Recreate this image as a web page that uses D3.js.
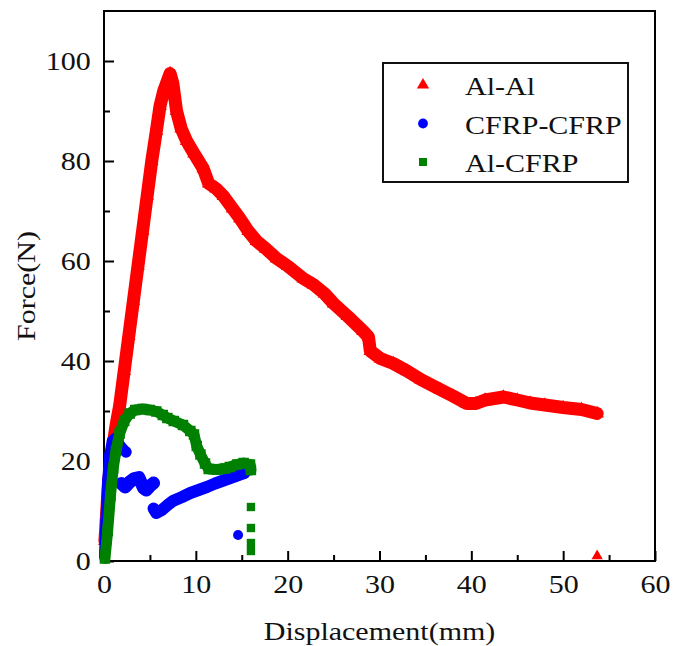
<html>
<head><script src="https://d3js.org/d3.v7.min.js"></script></head>
<body style="margin:0;background:#fff">
<svg id="chart" width="682" height="646"></svg>
<script>
// values: [displacement mm, force N]
const alAl = [[0.1,4],[0.3,10],[0.5,16],[0.9,22],[1.3,27],[1.7,31],[2.2,38],[2.7,45],[3.2,52],
  [3.7,59],[4.2,66],[4.7,73],[5.2,80],[5.7,86],[6.1,91],[6.5,94],[6.9,96],[7.2,97.5],[7.5,95.5],
  [7.9,90],[8.4,86.5],[9.0,84],[9.8,81.5],[10.8,78.5],[11.4,75.5],[12.2,74.5],[13.0,73],[14.0,70.5],
  [14.8,68.5],[15.7,66],[16.6,64],[17.6,62.5],[18.8,60.5],[20.0,59],[21.7,56.5],[22.8,55.3],[24.0,53.5],
  [25.0,51.5],[26.5,49],[28.2,46],[28.8,44.8],[29.0,42],[30.1,40.5],[31.5,39.5],[33.0,38],[34.5,36.3],
  [36.6,34.3],[38.0,33],[39.5,31.5],[40.5,31.5],[41.5,32.2],[43.5,32.8],[45.0,32.2],[46.4,31.6],
  [48.0,31.2],[50.0,30.7],[52.0,30.3],[53.7,29.5]]
const alAlExtra = [[53.7,1]]

const cfrpRise = [[0.05,1],[0.2,8],[0.4,16],[0.6,21],[0.9,24],[1.2,24.5],[1.6,23.5],[2.0,22.5],[2.4,21.8]]
const cfrpCluster = [[1.9,15.5],[2.3,14.8],[2.8,15.8],[3.3,16.5],[3.8,16.7],[4.3,14.6],[4.6,14.2],[5.0,15],[5.4,15.6]]
const cfrpLine = [[5.4,10.5],[5.7,9.6],[6.3,10.2],[7.0,11.3],[7.5,12],[8.5,12.8],[9.4,13.6],[10.3,14.2],
  [11.2,14.8],[12.1,15.5],[13.0,16.1],[13.9,16.7],[14.8,17.3],[15.3,17.6]]
const cfrpExtra = [[14.6,5.2]]

const alCfrp = [[0.1,0.5],[0.4,6],[0.7,13],[1.0,18.5],[1.3,22],[1.7,25.5],[2.2,28],[2.8,29.5],[3.4,30.2],
  [4.2,30.4],[5.0,30.2],[5.7,29.9],[6.4,29.2],[6.9,28.6],[7.6,28],[8.6,27.2],[9.4,26],[9.8,25.3],
  [10.1,23],[10.5,21.3],[11.0,19.5],[11.4,18.4],[12.3,18.3],[13.2,18.5],[13.7,18.8],[14.5,19.3],
  [15.2,19.6],[15.9,19.3],[16.0,18.2]]
const alCfrpExtra = [[16.0,10.8],[16.0,6.6],[16.0,3.6],[16.0,2.0]]

const xMajor = [0,10,20,30,40,50,60]
const xMinor = [5,15,25,35,45,55]
const yMajor = [0,20,40,60,80,100]
const yMinor = [10,30,50,70,90]
const seriesNames = ["Al-Al","CFRP-CFRP","Al-CFRP"]

const svg = d3.select("svg#chart")
const font = "'Liberation Serif','Times New Roman',serif"
const stretch = "scale(1.2,1)"
const margin = {top: 11, right: 27, bottom: 85, left: 104}
const width = +svg.attr("width")
const height = +svg.attr("height")

let xScale = d3.scaleLinear().domain([0, 60]).range([margin.left, width - margin.right])
let yScale = d3.scaleLinear().domain([0, 110]).range([height - margin.bottom, margin.top])

// minor ticks first, then the major ones with labels
svg.append("g").attr("transform", `translate(0,${yScale(0)})`)
  .call(d3.axisBottom(xScale).tickValues(xMinor).tickSize(-6).tickFormat(""))
svg.append("g").attr("transform", `translate(${xScale(0)},0)`)
  .call(d3.axisLeft(yScale).tickValues(yMinor).tickSize(-6).tickFormat(""))
const gx = svg.append("g").attr("transform", `translate(0,${yScale(0)})`)
  .call(d3.axisBottom(xScale).tickValues(xMajor).tickSize(-10).tickPadding(14))
const gy = svg.append("g").attr("transform", `translate(${xScale(0)},0)`)
  .call(d3.axisLeft(yScale).tickValues(yMajor).tickSize(-10).tickPadding(11))
svg.selectAll(".domain").remove()
svg.selectAll(".tick line").attr("stroke", "#000").attr("stroke-width", 2)
svg.selectAll(".tick text").attr("font-family", font).attr("font-size", 25).attr("fill", "#111")
  .attr("transform", stretch)
gy.selectAll(".tick text").attr("dy", "0.33em")

svg.append("rect")
  .attr("x", xScale(0)).attr("y", yScale(110))
  .attr("width", xScale(60) - xScale(0)).attr("height", yScale(0) - yScale(110))
  .attr("fill", "none").attr("stroke", "#000").attr("stroke-width", 2)

svg.append("text").attr("font-family", font).attr("font-size", 25).attr("fill", "#111")
  .attr("text-anchor", "middle")
  .attr("transform", `translate(${(xScale(0) + xScale(60)) / 2},640) ${stretch}`)
  .text("Displacement(mm)")
svg.append("text").attr("font-family", font).attr("font-size", 25).attr("fill", "#111")
  .attr("text-anchor", "middle")
  .attr("transform", `translate(35,${yScale(55)}) rotate(-90) ${stretch}`)
  .text("Force(N)")

const line = d3.line().x(d => xScale(d[0])).y(d => yScale(d[1]))

function band(pts, color, w) {
  svg.append("path").datum(pts).attr("d", line)
    .attr("fill", "none").attr("stroke", color).attr("stroke-width", w)
    .attr("stroke-linejoin", "round").attr("stroke-linecap", "round")
}
function markers(pts, color, type, size) {
  svg.append("g").selectAll("path").data(pts).join("path")
    .attr("transform", d => `translate(${xScale(d[0])},${yScale(d[1])})`)
    .attr("d", d3.symbol(type, size))
    .attr("fill", color)
}

band(alAl, "#ff0000", 13)
markers(alAl, "#ff0000", d3.symbolTriangle, 80)
markers(alAlExtra, "#ff0000", d3.symbolTriangle, 55)

band(cfrpRise, "#0000ff", 11)
band(cfrpCluster, "#0000ff", 13)
band(cfrpLine, "#0000ff", 12)
markers(cfrpRise.concat(cfrpCluster, cfrpLine), "#0000ff", d3.symbolCircle, 95)
markers(cfrpExtra, "#0000ff", d3.symbolCircle, 78)

band(alCfrp, "#008000", 11)
markers(alCfrp, "#008000", d3.symbolSquare, 110)
markers(alCfrpExtra, "#008000", d3.symbolSquare, 70)

// legend
const legend = svg.append("g")
legend.append("rect").attr("x", 383).attr("y", 63).attr("width", 245).attr("height", 119)
  .attr("fill", "#fff").attr("stroke", "#111").attr("stroke-width", 2)
const legendColors = ["#ff0000", "#0000ff", "#008000"]
const legendSymbols = [d3.symbolTriangle, d3.symbolCircle, d3.symbolSquare]
const legendSizes = [65, 75, 64]
seriesNames.forEach((name, i) => {
  const yy = 85 + i * 38.5
  legend.append("path").attr("transform", `translate(423,${yy})`)
    .attr("d", d3.symbol(legendSymbols[i], legendSizes[i])).attr("fill", legendColors[i])
  legend.append("text").attr("font-family", font).attr("font-size", 25).attr("fill", "#111")
    .attr("transform", `translate(465,${yy + 10}) ${stretch}`).text(name)
})
</script>
</body>
</html>
